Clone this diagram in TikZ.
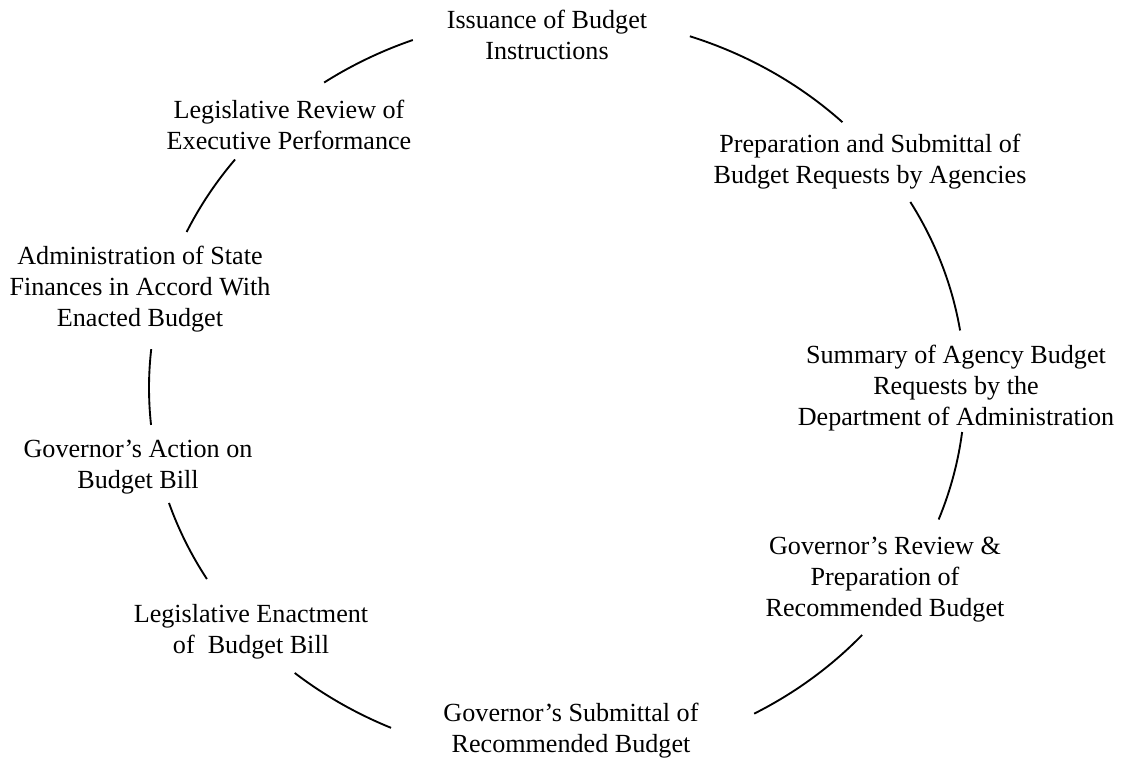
\documentclass[tikz,border=0pt]{standalone}
\usepackage{fontspec}
\setmainfont{Liberation Serif}
\usetikzlibrary{calc}
\begin{document}
\begin{tikzpicture}[x=0.75pt,y=0.75pt,
  lbl/.style={align=center,inner sep=0pt,font=\fontsize{19.6}{23.2}\selectfont},
  ring/.style={line width=1.4pt,black}]
\useasboundingbox (0,0) rectangle (1123,759);
\coordinate (c) at (557,371);
% labels (y = 759 - image y)
\node[lbl] (n1) at (547,724) {Issuance of Budget\\Instructions};
\node[lbl] (n2) at (870,597) {Preparation and Submittal of\\Budget Requests by Agencies};
\node[lbl] (n3) at (956,371) {Summary of Agency Budget\\Requests by the\\Department of Administration};
\node[lbl] (n4) at (885,179) {Governor’s Review \&\\Preparation of\\Recommended Budget};
\node[lbl] (n5) at (571,28) {Governor’s Submittal of\\Recommended Budget};
\node[lbl] (n6) at (251,127) {Legislative Enactment\\of\ \ Budget Bill};
\node[lbl] (n7) at (138,292) {Governor’s Action on\\Budget Bill};
\node[lbl] (n8) at (140,470) {Administration of State\\Finances in Accord With\\Enacted Budget};
\node[lbl] (n9) at (289,634) {Legislative Review of\\Executive Performance};
% ring arcs between labels
\foreach \a/\b in {71/45.6, 30/8.9, -6.8/-20.7, -41.6/-61.1, 246/230, 210.9/198, 185.7/174, 155.2/142.1, 124.8/110.7}{
  \draw[ring] ($(c)+(\a:306pt and 279pt)$) arc[start angle=\a, end angle=\b, x radius=306pt, y radius=279pt];
}
\end{tikzpicture}
\end{document}
